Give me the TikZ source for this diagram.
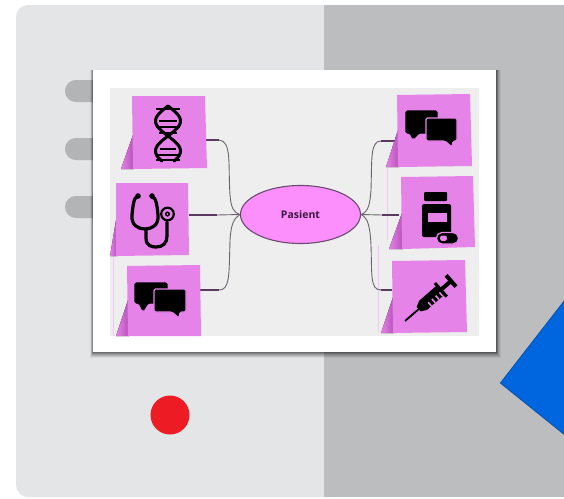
\documentclass[tikz,border=0pt]{standalone}
\usepackage{fontspec}
\setsansfont{Open Sans}
\usetikzlibrary{shapes.geometric,shadings}
\definecolor{panelL}{HTML}{E4E5E7}
\definecolor{panelR}{HTML}{BCBDBF}
\definecolor{notepink}{HTML}{E583E8}
\definecolor{flapdark}{HTML}{B650B8}
\definecolor{ovalpink}{HTML}{FD8FFC}
\definecolor{ovalline}{HTML}{6B4A72}
\definecolor{stubcol}{HTML}{5A3A5E}
\definecolor{thincol}{HTML}{6E6470}
\definecolor{inner}{HTML}{EEEEEE}
\definecolor{dotred}{HTML}{ED1C24}
\definecolor{diafill}{HTML}{0066E0}
\definecolor{dialine}{HTML}{0A56B0}
\definecolor{labelcol}{HTML}{3A1A40}
\tikzset{
  x=1pt,y=-1pt,
  notebody/.style={fill=notepink,draw=none},
  notefold/.style={left color=notepink,right color=flapdark,draw=none},
  stub/.style={draw=stubcol,line width=1.7pt},
  thinlink/.style={draw=thincol,line width=0.9pt},
  ghost/.style={draw=notepink!45!white,line width=0.7pt},
  glyph/.style={fill=black,draw=none},
  strand/.style={draw=black,line width=3pt,line cap=round},
  rung/.style={draw=black,line width=1.8pt},
  tube/.style={draw=black,line width=3.2pt,line cap=round},
}
\newcommand{\bubble}[9]{%
  \filldraw[fill=black,draw=#9,line width=1.1pt,rounded corners=1.5pt]
    (#1,#2) -- (#3,#2) -- (#3,#4) -- (#8,#4) -- (#6,#7) -- (#5,#4) -- (#1,#4) -- cycle;
}
\begin{document}
\begin{tikzpicture}
\useasboundingbox (0,0) rectangle (564,498);
\fill[white] (0,0) rectangle (564,498);
% panels
\fill[panelL,rounded corners=12pt] (16,5) rectangle (345,497);
\fill[panelR] (324,5) rectangle (564,497);
% tabs
\foreach \yy in {80,138,196}
  \fill[panelR!95!black,rounded corners=10.9pt] (65,\yy) rectangle (110,\yy+22);
% red dot and blue diamond
\node[circle,fill=dotred,minimum size=39pt,inner sep=0pt,draw=none] (dot) at (170,415) {};
\filldraw[fill=diafill,draw=dialine,line width=1pt]
   (565,300) -- (500.5,383) -- (565,435) -- cycle;
% photo with shadow
\foreach \dd/\op in {6/0.06,5/0.08,4/0.10,3/0.12,2/0.15,1/0.18}
  \fill[black,opacity=\op] (93-\dd*0.5,70) rectangle (496+\dd*0.8,352+\dd);
\fill[white] (93,70) rectangle (496,352);
\fill[inner] (110,88) rectangle (479,336);
% faint lines
\draw[ghost] (113,256) -- (113,336);
\draw[ghost] (378,245) -- (378,333);
\draw[ghost] (387,167) -- (387,240);
% connectors
\node[ellipse,draw=ovalline,line width=1.1pt,fill=ovalpink,minimum width=120pt,minimum height=58pt,inner sep=0pt,
      text=labelcol,font=\sffamily\fontsize{10.5}{12}\selectfont\bfseries] (pasient) at (300.5,214.5) {Pasient};
\coordinate (a1) at (206,140); \coordinate (a1j) at (219,140);
\coordinate (a2) at (189,215); \coordinate (a2j) at (217,215);
\coordinate (a3) at (200,290); \coordinate (a3j) at (219,290);
\coordinate (b1) at (397,141); \coordinate (b1j) at (381,141);
\coordinate (b2) at (399,215); \coordinate (b2j) at (382,215);
\coordinate (b3) at (392,290); \coordinate (b3j) at (381,290);
\draw[thinlink] (a1j) .. controls (232,141) and (228,165) .. (230,195) .. controls (231,208) and (234,213) .. (pasient.west);
\draw[thinlink] (a2j) -- (pasient.west);
\draw[thinlink] (a3j) .. controls (230,290) and (229,275) .. (230,240) .. controls (231,224) and (234,218) .. (pasient.west);
\draw[thinlink] (pasient.east) .. controls (368,212) and (370,205) .. (371,190) .. controls (372,160) and (370,141) .. (b1j);
\draw[thinlink] (pasient.east) -- (b2j);
\draw[thinlink] (pasient.east) .. controls (368,218) and (370,226) .. (371,245) .. controls (372,275) and (370,290) .. (b3j);
\draw[stub] (a1) -- (a1j); \draw[stub] (a2) -- (a2j); \draw[stub] (a3) -- (a3j);
\draw[stub] (b1) -- (b1j); \draw[stub] (b2) -- (b2j); \draw[stub] (b3) -- (b3j);
% notes
\fill[notefold] (133,135) -- (121,169) -- (134,169) -- cycle;
\fill[notebody] (132,96) -- (205,96) -- (207,168) -- (133,169) -- cycle;
\fill[notefold] (116,220) -- (110,256) -- (117,256) -- cycle;
\fill[notebody] (116,183) -- (188,183) -- (189,255) -- (116,256) -- cycle;
\fill[notefold] (128,300) -- (116,336) -- (129,336) -- cycle;
\fill[notebody] (127,266) -- (200,265) -- (201,336) -- (128,336) -- cycle;
\fill[notefold] (398,130) -- (386,167) -- (399,167) -- cycle;
\fill[notebody] (397,95) -- (470,94) -- (472,166) -- (398,167) -- cycle;
\fill[notefold] (402,213) -- (389,249) -- (403,249) -- cycle;
\fill[notebody] (401,177) -- (473,176) -- (475,247) -- (402,249) -- cycle;
\fill[notefold] (393,297) -- (381,333) -- (394,333) -- cycle;
\fill[notebody] (392,261) -- (465,260) -- (467,332) -- (393,333) -- cycle;
% DNA icon
\draw[strand,domain=0:1,samples=40] plot ({168+12.5*cos(90+330*\x)},{106+\x*55});
\draw[strand,domain=0:1,samples=40] plot ({168-12.5*cos(90+330*\x)},{106+\x*55});
\foreach \yy/\hw in {109/12,121/9,127/12,133/9,149/8,155/12,160/12}
  \draw[rung] (168-\hw,\yy) -- (168+\hw,\yy);
% stethoscope icon
\draw[tube] (137,197) .. controls (134,197) and (133,205) .. (132,215)
   .. controls (131,225) and (138,229) .. (145,229)
   .. controls (152,229) and (159,225) .. (158,215)
   .. controls (157,205) and (156,197) .. (152,197);
\draw[tube] (146,229) -- (146,238) .. controls (146,246) and (152,247) .. (156,247)
   .. controls (163,247) and (167,243) .. (167,236) -- (167,222);
\fill[black] (138,196) circle (2.8);
\fill[black] (152,196) circle (2.8);
\filldraw[fill=notepink,draw=black,line width=2.2pt] (167.5,214) circle (6.3);
\fill[black] (167.5,214) circle (2.6);
\fill[notepink] (167.5,214) circle (1);
% chat icon, left
\bubble{135}{283}{167}{303}{139}{143}{311}{148}{black}
\bubble{154}{289}{186}{312}{172}{179}{318}{180}{notepink}
% chat icon, right
\bubble{406}{111}{437}{133}{410}{413}{139}{419}{black}
\bubble{426}{118}{457}{141}{445}{452}{147}{453}{notepink}
% bottle icon
\fill[glyph,rounded corners=1pt] (424,192) rectangle (447,201);
\fill[glyph,rounded corners=2pt] (422,204) rectangle (451,237);
\fill[notepink] (428,213) rectangle (447,222);
\filldraw[fill=black,draw=notepink,line width=1.3pt,rounded corners=5.4pt] (436.5,232.5) rectangle (458.5,244);
\fill[notepink,rounded corners=2.4pt] (440,235.5) -- (447,235.5) -- (447,241) -- (440,241) -- cycle;
% syringe icon
\begin{scope}[shift={(405,321)},rotate=41]
  \fill[glyph] (0,-0.9) rectangle (20,0.9);
  \fill[glyph] (18,-3) -- (24,-6) -- (24,6) -- (18,3) -- cycle;
  \fill[glyph] (24,-6) rectangle (47,6);
  \foreach \tt in {29,34,39,44} \fill[notepink] (\tt,1) rectangle (\tt+1.6,6);
  \fill[glyph] (46,-9) rectangle (49,9);
  \fill[glyph] (49,-2) rectangle (60,2);
  \fill[glyph] (59,-7.5) rectangle (63,7.5);
\end{scope}
\end{tikzpicture}
\end{document}
